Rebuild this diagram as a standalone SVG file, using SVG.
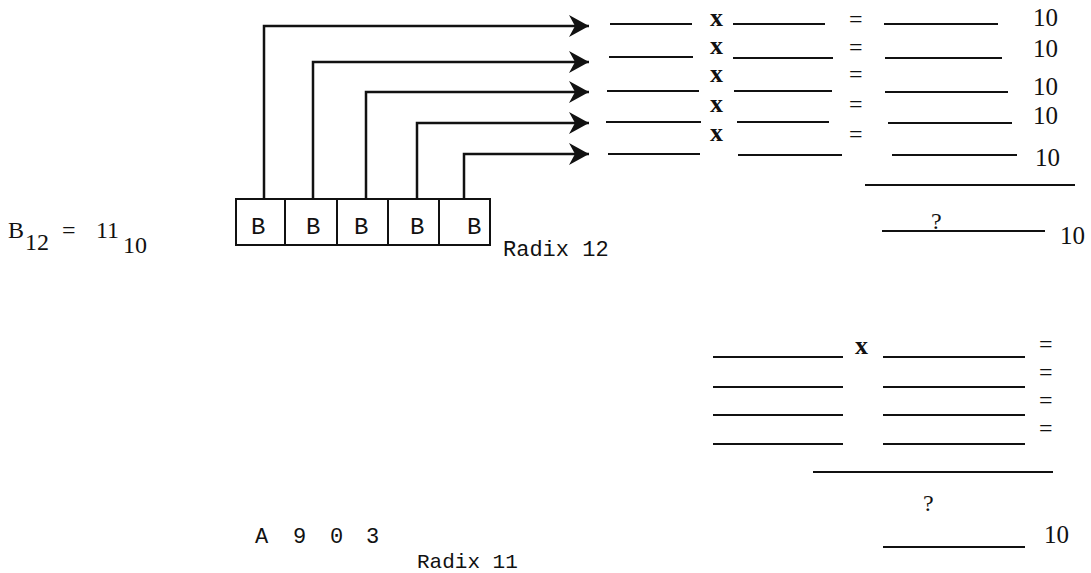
<svg xmlns="http://www.w3.org/2000/svg" width="1091" height="573" viewBox="0 0 1091 573">
<style>
.mono{font-family:"Liberation Mono","Courier New",monospace;fill:#111}
.ser{font-family:"Liberation Serif","Times New Roman",serif;fill:#111}
.bx{font-family:"Liberation Serif","Times New Roman",serif;font-weight:bold;fill:#111;font-size:26px}
.ul{stroke:#111;stroke-width:2;fill:none}
.cell{fill:#fff;stroke:#111;stroke-width:2}
.conn{stroke:#111;stroke-width:2.5;fill:none}
</style>
<defs>
<marker id="ah" viewBox="0 0 20 22" refX="20" refY="11" markerWidth="20" markerHeight="22" markerUnits="userSpaceOnUse" orient="auto">
<path d="M0,0 L20,11 L0,22 L6,11 Z" fill="#111"/>
</marker>
</defs>
<rect width="1091" height="573" fill="#fff"/>

<g id="label-b12">
<text class="ser" x="8" y="238" font-size="24">B</text>
<text class="ser" x="25" y="250" font-size="24">12</text>
<text class="ser" x="62" y="238" font-size="24">=</text>
<text class="ser" x="96" y="238" font-size="24">11</text>
<text class="ser" x="123" y="253" font-size="24">10</text>
</g>

<g id="register">
<g id="cell1"><rect class="cell" x="236" y="199" width="49" height="46"/><text class="mono" x="251" y="234" font-size="24">B</text></g>
<g id="cell2"><rect class="cell" x="285" y="199" width="52" height="46"/><text class="mono" x="306" y="234" font-size="24">B</text></g>
<g id="cell3"><rect class="cell" x="337" y="199" width="51" height="46"/><text class="mono" x="354" y="234" font-size="24">B</text></g>
<g id="cell4"><rect class="cell" x="388" y="199" width="51" height="46"/><text class="mono" x="410" y="234" font-size="24">B</text></g>
<g id="cell5"><rect class="cell" x="439" y="199" width="51" height="46"/><text class="mono" x="467" y="234" font-size="24">B</text></g>
<text class="mono" x="503" y="256" font-size="22">Radix 12</text>
</g>

<g id="connectors">
<polyline class="conn" points="264,199 264,26 589,26" marker-end="url(#ah)"/>
<polyline class="conn" points="313,199 313,62 589,62" marker-end="url(#ah)"/>
<polyline class="conn" points="366,199 366,92 589,92" marker-end="url(#ah)"/>
<polyline class="conn" points="417,199 417,123 589,123" marker-end="url(#ah)"/>
<polyline class="conn" points="464,199 464,154 589,154" marker-end="url(#ah)"/>
</g>

<g id="table-radix12">
<line class="ul" x1="610" y1="24" x2="692" y2="24"/>
<line class="ul" x1="733" y1="24" x2="825" y2="24"/>
<line class="ul" x1="884" y1="24" x2="998" y2="24"/>
<line class="ul" x1="609" y1="57" x2="693" y2="57"/>
<line class="ul" x1="733" y1="58" x2="833" y2="58"/>
<line class="ul" x1="885" y1="58" x2="1002" y2="58"/>
<line class="ul" x1="607" y1="91" x2="699" y2="91"/>
<line class="ul" x1="734" y1="91" x2="832" y2="91"/>
<line class="ul" x1="885" y1="92" x2="1008" y2="92"/>
<line class="ul" x1="606" y1="122" x2="701" y2="122"/>
<line class="ul" x1="737" y1="122" x2="829" y2="122"/>
<line class="ul" x1="888" y1="123" x2="1012" y2="123"/>
<line class="ul" x1="608" y1="154" x2="700" y2="154"/>
<line class="ul" x1="738" y1="155" x2="842" y2="155"/>
<line class="ul" x1="892" y1="155" x2="1017" y2="155"/>
<line class="ul" x1="865" y1="185" x2="1075" y2="185"/>
<line class="ul" x1="882" y1="231" x2="1045" y2="231"/>
<text class="bx" x="710" y="26">x</text>
<text class="bx" x="710" y="54">x</text>
<text class="bx" x="710" y="82">x</text>
<text class="bx" x="710" y="112">x</text>
<text class="bx" x="710" y="141">x</text>
<text class="ser" x="849" y="27" font-size="24">=</text>
<text class="ser" x="849" y="55" font-size="24">=</text>
<text class="ser" x="849" y="82" font-size="24">=</text>
<text class="ser" x="849" y="112" font-size="24">=</text>
<text class="ser" x="849" y="142" font-size="24">=</text>
<text class="ser" x="1033" y="26" font-size="25">10</text>
<text class="ser" x="1033" y="57" font-size="25">10</text>
<text class="ser" x="1033" y="95" font-size="25">10</text>
<text class="ser" x="1033" y="124" font-size="25">10</text>
<text class="ser" x="1035" y="166" font-size="25">10</text>
<text class="ser" x="931" y="229" font-size="24">?</text>
<text class="ser" x="1060" y="244" font-size="25">10</text>
</g>

<g id="table-radix11">
<text class="bx" x="855" y="354">x</text>
<line class="ul" x1="713" y1="357" x2="843" y2="357"/>
<line class="ul" x1="713" y1="387" x2="843" y2="387"/>
<line class="ul" x1="713" y1="415" x2="843" y2="415"/>
<line class="ul" x1="713" y1="444" x2="843" y2="444"/>
<line class="ul" x1="883" y1="357" x2="1025" y2="357"/>
<line class="ul" x1="883" y1="387" x2="1025" y2="387"/>
<line class="ul" x1="883" y1="415" x2="1025" y2="415"/>
<line class="ul" x1="883" y1="444" x2="1025" y2="444"/>
<text class="ser" x="1039" y="352" font-size="24">=</text>
<text class="ser" x="1039" y="380" font-size="24">=</text>
<text class="ser" x="1039" y="408" font-size="24">=</text>
<text class="ser" x="1039" y="436" font-size="24">=</text>
<line class="ul" x1="813" y1="472" x2="1053" y2="472"/>
<text class="ser" x="923" y="511" font-size="24">?</text>
<line class="ul" x1="883" y1="547" x2="1025" y2="547"/>
<text class="ser" x="1044" y="543" font-size="25">10</text>
</g>

<g id="digits-radix11">
<text class="mono" x="255" y="543" font-size="22">A</text>
<text class="mono" x="293" y="543" font-size="22">9</text>
<text class="mono" x="330" y="543" font-size="22">0</text>
<text class="mono" x="366" y="543" font-size="22">3</text>
<text class="mono" x="417" y="568" font-size="21">Radix 11</text>
</g>
</svg>
